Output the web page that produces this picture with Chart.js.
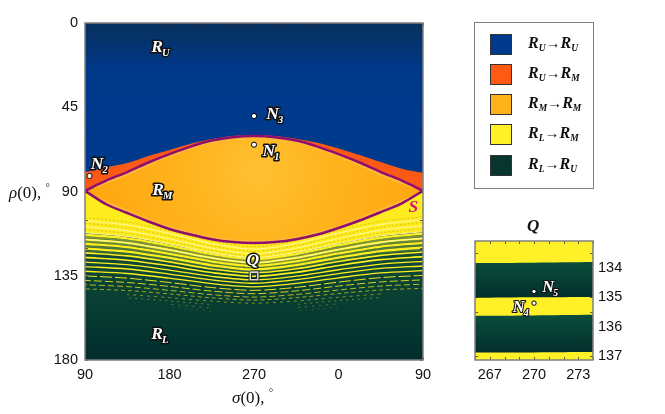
<!DOCTYPE html>
<html>
<head>
<meta charset="utf-8">
<title>Q</title>
<script src="https://cdn.jsdelivr.net/npm/chart.js@4"></script>
<style>
  body { margin: 0; background: #fff; width: 665px; height: 414px; overflow: hidden; position: relative; }
  canvas { position: absolute; }
  .serif { position: absolute; font-family: "Liberation Serif", serif; color: #111; white-space: nowrap; }
  .title { font-size: 17px; }
  #legendBox { position: absolute; left: 474px; top: 22px; width: 118px; height: 165px; border: 1.5px solid #808080; }
  .swatch { position: absolute; left: 15px; width: 20px; height: 19px; border: 1px solid #333; }
  .entry { position: absolute; left: 53px; font: italic bold 16px "Liberation Serif", serif; color: #111; white-space: nowrap; }
  .entry sub { font-size: 9.5px; line-height: 0; vertical-align: -3px; }
  .entry .arrow { font-style: normal; font-weight: normal; font-size: 15px; }
  #insetTitle { left: 527px; top: 216px; font: italic bold 17px "Liberation Serif", serif; }
</style>
</head>
<body>
<canvas id="mainChart" width="665" height="414" style="left:0;top:0"></canvas>
<canvas id="insetChart" width="225" height="204" style="left:440px;top:210px"></canvas>
<div class="serif title" style="left:232px;top:386px"><i>σ</i>(0), <sup style="font-size:11px">°</sup></div>
<div class="serif title" style="left:9px;top:181px"><i>ρ</i>(0), <sup style="font-size:11px">°</sup></div>
<div class="serif" id="insetTitle">Q</div>
<div id="legendBox"></div>
<script>
// tick labels
const xTickValues = [90, 180, 270, 360, 450];
const xTickLabels = ['90', '180', '270', '0', '90'];
const yTickValues = [0, 45, 90, 135, 180];
const insetXTicks = [267, 270, 273];
const insetYTicks = [134, 135, 136, 137];

// legend
const legendFrom = ['U', 'U', 'M', 'L', 'L'];
const legendTo = ['U', 'M', 'M', 'M', 'U'];
const legendColors = ['#003a8c', '#ff5a14', '#ffb31a', '#fff028', '#08352e'];

const fineSigma = [90, 112.5, 135, 157.5, 180, 202.5, 225, 247.5, 270, 292.5, 315, 337.5, 360, 382.5, 405, 427.5, 450];
const topEdge = [0, 0, 0, 0, 0, 0, 0, 0, 0, 0, 0, 0, 0, 0, 0, 0, 0];
const orangeEdge = [79.7, 77, 74.8, 71, 67.8, 64.5, 62, 60.3, 59.8, 60.3, 61.8, 64, 67, 70.5, 74.3, 77.8, 80];
const separatrixUp = [89.6, 84.2, 79.6, 74.5, 70, 66, 62.8, 61, 60.4, 61, 62.8, 66, 70, 74.5, 79.6, 84.2, 89.6];
const separatrixLow = [89.6, 96.8, 101.5, 106, 110, 113, 115.5, 117, 117.5, 117, 115.5, 113, 109.5, 105.5, 101, 96.3, 89.6];
// pale rim just inside the separatrix ends here
const goldInnerUp = [89.6, 86, 81.6, 76.2, 71.6, 67.5, 64.2, 62.3, 61.6, 62.3, 64.2, 67.5, 71.6, 76.2, 81.6, 86, 89.6];
const goldInnerLow = [89.6, 95, 99.7, 104.3, 108.4, 111.5, 114, 115.7, 116.2, 115.7, 114, 111.5, 108, 103.8, 99.2, 94.5, 89.6];

const coarseSigma = [90, 135, 180, 225, 270, 315, 360, 405, 450];
const greenEdge = [112, 114, 118, 122.8, 125.5, 122.7, 117.8, 113.7, 111.4];
const oliveStripes = [
  [104, 106.3, 111, 116.4, 119.5, 116.3, 110.8, 106, 103.5],
  [107, 109.3, 113.8, 119, 122, 118.9, 113.6, 109, 106.5],
  [110.3, 112.4, 116.6, 121.5, 124.3, 121.4, 116.4, 112.1, 109.8]
];
const gapStripes = [
  [114.3, 116.2, 120, 124.5, 127, 124.4, 119.9, 115.9, 113.7],
  [116.7, 118.5, 122.2, 126.4, 128.9, 126.3, 122, 118.2, 116.2],
  [119.1, 120.9, 124.4, 128.4, 130.7, 128.3, 124.2, 120.6, 118.6],
  [121.6, 123.2, 126.5, 130.4, 132.6, 130.3, 126.3, 122.9, 121.1]
];
const yellowStripes = [
  [113.1, 115, 118.9, 123.5, 126.1, 123.4, 118.7, 114.7, 112.5],
  [115.6, 117.4, 121.2, 125.5, 128, 125.4, 121, 117.1, 115],
  [117.9, 119.7, 123.3, 127.4, 129.8, 127.3, 123.1, 119.4, 117.4],
  [120.4, 122.1, 125.5, 129.4, 131.7, 129.3, 125.3, 121.8, 119.9],
  [122.8, 124.4, 127.6, 131.4, 133.5, 131.3, 127.4, 124.1, 122.3],
  [125.2, 126.7, 129.7, 133.3, 135.3, 133.2, 129.5, 126.4, 124.8],
  [127.7, 129.1, 132, 135.3, 137.2, 135.2, 131.8, 128.8, 127.3],
  [130.1, 131.4, 134.1, 137.2, 139, 137.1, 133.9, 131.1, 129.8],
  [132.6, 133.8, 136.3, 139.2, 140.9, 139.1, 136.1, 133.5, 132.3]
];
const paleStripes = [
  [105.6, 107.9, 112.4, 117.8, 120.8, 117.7, 112.2, 107.6, 105.1],
  [108.8, 111, 115.3, 120.3, 123.2, 120.2, 115.1, 110.7, 108.3],
  [112, 114, 118, 122.6, 125.3, 122.5, 117.8, 113.7, 111.5],
  [115.6, 117.4, 121.2, 125.5, 128, 125.4, 121, 117.1, 115]
];
const dashedStripes = [
  [135.1, 136.3, 138.6, 141.3, 142.8, 141.2, 138.4, 136, 134.8],
  [137.5, 138.6, 140.7, 143.2, 144.6, 143.1, 140.5, 138.3, 137.2],
  [139.8, 140.8, 142.8, 145.1, 146.4, 145, 142.6, 140.5, 139.5],
  [142, 142.9, 144.7, 146.8, 148, 146.7, 144.5, 142.6, 141.7],
  [null, 145, 146.7, 148.6, 149.7, 148.5, 146.5, 144.7, null],
  [null, 146.8, 148.5, 150.4, null, 150.3, 148.3, 146.6, null],
  [null, null, 150.2, 152.2, null, 152.1, 150, null, null],
  [null, null, 151.8, 154, null, 153.9, 151.6, null, null]
];

// marked orbits
const mainPointsSigma = [270, 270, 94.8];
const mainPointsRho = [49.7, 65, 81.7];
const zoomBoxSigma = [266, 274, 274, 266, 266];
const zoomBoxRho = [133.08, 133.08, 137.14, 137.14, 133.08];

// inset
const insetSigma = [266, 270, 274];
const insetTop = [133.08, 133.08, 133.08];
const insetGreenA = [133.83, 133.82, 133.8];
const insetYellowA = [135.02, 135, 134.99];
const insetGreenB = [135.63, 135.62, 135.6];
const insetYellowB = [136.88, 136.88, 136.87];
const insetPointsSigma = [270, 270];
const insetPointsRho = [135.2, 134.8];

const mainLabels = [
  { text: 'R', sub: 'U', x: 169, y: 12.5 },
  { text: 'R', sub: 'M', x: 170, y: 89 },
  { text: 'R', sub: 'L', x: 169, y: 165.5 },
  { text: 'N', sub: '3', x: 292, y: 48 },
  { text: 'N', sub: '1', x: 288, y: 68 },
  { text: 'N', sub: '2', x: 105, y: 75 },
  { text: 'Q', sub: '', x: 271, y: 126 },
  { text: 'S', sub: '', x: 442, y: 98, plain: '#d6127e' }
];
const insetLabels = [
  { text: 'N', sub: '5', x: 271.1, y: 134.65 },
  { text: 'N', sub: '4', x: 269.1, y: 135.3 }
];

function pairs(xs, ys) {
  return xs.map((x, i) => ({ x: x, y: ys[i] }));
}

function vertical(ctx, stops, rhoTop, rhoBottom) {
  const chart = ctx.chart;
  if (!chart.chartArea) return stops[0];
  const sy = chart.scales.y;
  const g = chart.ctx.createLinearGradient(0, sy.getPixelForValue(rhoTop), 0, sy.getPixelForValue(rhoBottom));
  stops.forEach((c, i) => g.addColorStop(i / (stops.length - 1), c));
  return g;
}

function goldFill(ctx) {
  const chart = ctx.chart;
  if (!chart.chartArea) return '#ffb31a';
  const sx = chart.scales.x, sy = chart.scales.y;
  const cx = sx.getPixelForValue(275), cy = sy.getPixelForValue(80);
  const g = chart.ctx.createRadialGradient(cx, cy, 8, cx, cy, 170);
  g.addColorStop(0, '#ffbf30');
  g.addColorStop(0.35, '#ffb51f');
  g.addColorStop(1, '#ffa60e');
  return g;
}

function area(data, color, base) {
  return { type: 'line', data: data, borderWidth: 0, pointRadius: 0, tension: 0.3, backgroundColor: color, fill: { value: base } };
}

function curve(data, color, width, dash, offset) {
  return {
    type: 'line', data: data, borderColor: color, borderWidth: width, pointRadius: 0, tension: 0.3, fill: false,
    borderDash: dash || [], borderDashOffset: offset || 0, spanGaps: false
  };
}

// later entries are painted on top
function stacked(list) {
  list.forEach((d, i) => { d.order = list.length - i; });
  return list;
}

const mainSets = [
  area(pairs(fineSigma, topEdge), ctx => vertical(ctx, ['#07305c', '#00388a', '#003a8c'], 0, 50), 180),
  area(pairs(fineSigma, orangeEdge), '#fb5a16', 180),
  area(pairs(fineSigma, separatrixUp), '#ffba3c', 180),
  curve(pairs(fineSigma, goldInnerLow), 'rgba(0,0,0,0)', 0)
];
// gold lens fills down to the curve just before it in the list
const lensTop = curve(pairs(fineSigma, goldInnerUp), 'rgba(0,0,0,0)', 0);
lensTop.fill = '-1';
lensTop.backgroundColor = goldFill;
mainSets.push(lensTop);
mainSets.push(
  area(pairs(fineSigma, separatrixLow), '#ffec1e', 180),
  area(pairs(coarseSigma, greenEdge), ctx => vertical(ctx, ['#164f38', '#0a4434', '#063a31', '#022c2e'], 115, 180), 180)
);
oliveStripes.forEach(s => mainSets.push(curve(pairs(coarseSigma, s), '#d8c81c', 1, [2, 2])));
const gapColors = ['#7d9436', '#6a8a36', '#4f7a38', '#3a6a38'];
gapStripes.forEach((s, i) => mainSets.push(curve(pairs(coarseSigma, s), gapColors[i], 2)));
yellowStripes.forEach((s, i) => mainSets.push(curve(pairs(coarseSigma, s), '#ffee20', i < 4 ? 2.3 : (i < 6 ? 1.6 : 1.3))));
paleStripes.forEach(s => mainSets.push(curve(pairs(coarseSigma, s), '#fff8a6', 1)));
const dashPatterns = [[12, 3], [8, 3], [6, 3], [4, 3], [3, 4], [2, 4], [2, 5], [1, 5]];
const dashColors = ['#f0e420', '#d8d020', '#bcb820', '#a0a420', '#7f9026', '#6a7e2a', '#587430', '#4a6a30'];
dashedStripes.forEach((s, i) => mainSets.push(curve(pairs(coarseSigma, s), dashColors[i], 1, dashPatterns[i], i * 2)));
mainSets.push(curve(pairs(fineSigma, separatrixUp), '#8f0f70', 2.5));
mainSets.push(curve(pairs(fineSigma, separatrixLow), '#8f0f70', 2.5));
const boxOuter = curve(pairs(zoomBoxSigma, zoomBoxRho), '#111', 3.2); boxOuter.tension = 0;
const boxInner = curve(pairs(zoomBoxSigma, zoomBoxRho), '#d8d8d8', 1.6); boxInner.tension = 0;
mainSets.push(boxOuter, boxInner);
mainSets.push({
  type: 'line', data: pairs(mainPointsSigma, mainPointsRho), showLine: false, pointRadius: 2.6,
  pointBackgroundColor: '#fff', pointBorderColor: '#000', pointBorderWidth: 1
});

const insetSets = [
  area(pairs(insetSigma, insetTop), '#fff028', 137.14),
  area(pairs(insetSigma, insetGreenA), ctx => vertical(ctx, ['#0a4d3c', '#032f2c'], 133.83, 135), 137.14),
  area(pairs(insetSigma, insetYellowA), '#fff028', 137.14),
  area(pairs(insetSigma, insetGreenB), ctx => vertical(ctx, ['#0a4d3c', '#032f2c'], 135.63, 136.88), 137.14),
  area(pairs(insetSigma, insetYellowB), '#fff028', 137.14),
  {
    type: 'line', data: pairs(insetPointsSigma, insetPointsRho), showLine: false, pointRadius: 2.2,
    pointBackgroundColor: '#fff', pointBorderColor: '#000', pointBorderWidth: 1
  }
];

// inward ticks on all four sides and the grey frame
function framePlugin(xStep, yStep) {
  return {
    id: 'frame',
    afterDatasetsDraw(chart) {
      const { ctx, chartArea: a, scales: { x, y } } = chart;
      ctx.save();
      ctx.strokeStyle = '#222';
      ctx.lineWidth = 0.7;
      ctx.beginPath();
      for (let v = x.min; v <= x.max + 1e-6; v += xStep) {
        const p = Math.round(x.getPixelForValue(v)) + 0.5;
        ctx.moveTo(p, a.bottom); ctx.lineTo(p, a.bottom - 3);
        ctx.moveTo(p, a.top); ctx.lineTo(p, a.top + 3);
      }
      const first = Math.ceil(Math.min(y.min, y.max) / yStep) * yStep;
      for (let v = first; v <= Math.max(y.min, y.max) + 1e-6; v += yStep) {
        const p = Math.round(y.getPixelForValue(v)) + 0.5;
        ctx.moveTo(a.left, p); ctx.lineTo(a.left + 3, p);
        ctx.moveTo(a.right, p); ctx.lineTo(a.right - 3, p);
      }
      ctx.stroke();
      ctx.strokeStyle = '#808080';
      ctx.lineWidth = 1.5;
      ctx.strokeRect(a.left, a.top, a.right - a.left, a.bottom - a.top);
      ctx.restore();
    }
  };
}

function labelPlugin(labels, size, halo) {
  return {
    id: 'regionLabels',
    afterDraw(chart) {
      const { ctx, scales: { x, y } } = chart;
      ctx.save();
      ctx.textBaseline = 'alphabetic';
      ctx.textAlign = 'left';
      ctx.lineJoin = 'round';
      labels.forEach(l => {
        const px = x.getPixelForValue(l.x), py = y.getPixelForValue(l.y);
        ctx.font = 'italic bold ' + size + 'px "Liberation Serif", serif';
        const w = ctx.measureText(l.text).width;
        const left = px - w / 2 - 2, base = py + size * 0.33;
        const put = (s, xx, yy) => {
          if (l.plain) { ctx.fillStyle = l.plain; ctx.fillText(s, xx, yy); return; }
          ctx.strokeStyle = '#111'; ctx.lineWidth = halo; ctx.strokeText(s, xx, yy);
          ctx.fillStyle = '#fff'; ctx.fillText(s, xx, yy);
        };
        put(l.text, left, base);
        if (l.sub) {
          ctx.font = 'italic bold ' + (size * 0.6) + 'px "Liberation Serif", serif';
          put(l.sub, left + w - 1, base + 4);
        }
      });
      ctx.restore();
    }
  };
}

function tickList(values) {
  return function (scale) { scale.ticks = values.map(v => ({ value: v })); };
}

const tickFont = { family: '"Liberation Sans", sans-serif', size: 14.5 };

new Chart(document.getElementById('mainChart'), {
  type: 'line',
  data: { datasets: stacked(mainSets) },
  plugins: [framePlugin(30, 15), labelPlugin(mainLabels, 17.5, 3)],
  options: {
    responsive: false,
    animation: false,
    events: [],
    layout: { autoPadding: false, padding: { left: 0, right: 242, top: 23, bottom: 0 } },
    plugins: { legend: { display: false }, tooltip: { enabled: false } },
    scales: {
      x: {
        type: 'linear', min: 90, max: 450,
        afterBuildTicks: tickList(xTickValues),
        afterFit: s => { s.height = 54; },
        grid: { display: false, drawTicks: false }, border: { display: false },
        ticks: { font: tickFont, color: '#111', padding: 6, maxRotation: 0, autoSkip: false,
          callback: v => xTickLabels[xTickValues.indexOf(v)] }
      },
      y: {
        type: 'linear', min: 0, max: 180, reverse: true,
        afterBuildTicks: tickList(yTickValues),
        afterFit: s => { s.width = 85; },
        grid: { display: false, drawTicks: false }, border: { display: false },
        ticks: { font: tickFont, color: '#111', padding: 7, autoSkip: false }
      }
    }
  }
});

new Chart(document.getElementById('insetChart'), {
  type: 'line',
  data: { datasets: stacked(insetSets) },
  plugins: [framePlugin(1, 0.5), labelPlugin(insetLabels, 16.5, 2.2)],
  options: {
    responsive: false,
    animation: false,
    events: [],
    layout: { autoPadding: false, padding: { left: 35, right: 0, top: 31, bottom: 0 } },
    plugins: { legend: { display: false }, tooltip: { enabled: false } },
    scales: {
      x: {
        type: 'linear', min: 266, max: 274,
        afterBuildTicks: tickList(insetXTicks),
        afterFit: s => { s.height = 54; },
        grid: { display: false, drawTicks: false }, border: { display: false },
        ticks: { font: tickFont, color: '#111', padding: 6, maxRotation: 0, autoSkip: false }
      },
      y: {
        type: 'linear', position: 'right', min: 133.08, max: 137.14, reverse: true,
        afterBuildTicks: tickList(insetYTicks),
        afterFit: s => { s.width = 72; },
        grid: { display: false, drawTicks: false }, border: { display: false },
        ticks: { font: tickFont, color: '#111', padding: 5, autoSkip: false }
      }
    }
  }
});

const legendBox = document.getElementById('legendBox');
legendColors.forEach((color, i) => {
  const top = 10.5 + i * 30.3;
  const swatch = document.createElement('div');
  swatch.className = 'swatch';
  swatch.style.top = top + 'px';
  swatch.style.background = color;
  legendBox.appendChild(swatch);
  const entry = document.createElement('div');
  entry.className = 'entry';
  entry.style.top = top + 'px';
  entry.innerHTML = `R<sub>${legendFrom[i]}</sub><span class="arrow">→</span>R<sub>${legendTo[i]}</sub>`;
  legendBox.appendChild(entry);
});
</script>
</body>
</html>
